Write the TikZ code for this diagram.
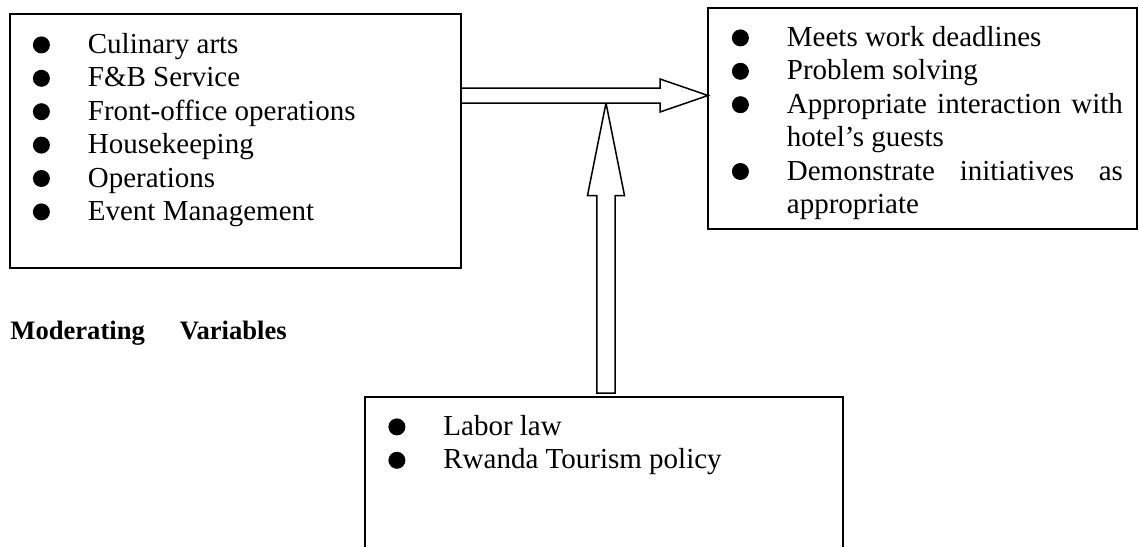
\documentclass[tikz,border=0pt]{standalone}
\usepackage{fontspec}
\setmainfont{Liberation Serif}
\usetikzlibrary{calc}

% round bullet and one list entry with hanging indent
\newcommand{\blob}{\tikz\fill (0,0) circle (4.25pt);}
\newlength{\itemgap}
\setlength{\itemgap}{27.5pt}
\newcommand{\lstitem}[1]{\par\noindent\hangindent=\itemgap\hangafter=1\strut\makebox[\itemgap][l]{\blob}#1\strut\par}

\begin{document}
\begin{tikzpicture}[
  x=0.5pt, y=-0.5pt,
  box/.style={rectangle, draw=black, line width=0.9pt, anchor=north west,
              inner sep=0pt, outer sep=0pt},
  lst/.style={anchor=north west, inner sep=0pt, text width=#1, align=justify,
              font=\fontsize{14.5}{16.7}\selectfont},
  blk/.style={draw=black, line width=0.75pt, fill=white, line join=miter},
  lbl/.style={anchor=base west, inner sep=0pt, font=\fontsize{13.3}{16}\selectfont\bfseries}
]
\useasboundingbox (0,0) rectangle (1139,546);
\clip (0,0) rectangle (1139,546);

% Input box
\node[box, minimum width=225.5pt, minimum height=127pt] (inputs) at (10,14) {};
\node[lst=200pt] (inputlist) at (32.5,19.6) {%
  \lstitem{Culinary arts}
  \lstitem{F\&B Service}
  \lstitem{Front-office operations}
  \lstitem{Housekeeping}
  \lstitem{Operations}
  \lstitem{Event Management}};

% Outcome box
\node[box, minimum width=214.5pt, minimum height=110.5pt] (outcomes) at (708,8) {};
\node[lst=195.5pt] (outcomelist) at (731.5,12.6) {%
  \lstitem{Meets work deadlines}
  \lstitem{Problem solving}
  \lstitem{Appropriate interaction with\linebreak hotel's guests}
  \lstitem{Demonstrate initiatives as\linebreak appropriate}};

% Moderating box (open at the bottom of the page)
\node[box, minimum width=239pt, minimum height=101.5pt] (moderators) at (365,397) {};
\node[lst=200pt] (moderatorlist) at (388,401.6) {%
  \lstitem{Labor law}
  \lstitem{Rwanda Tourism policy}};

\node[lbl] (modlabel) at (10,339) {Moderating\hspace{17.5pt}Variables};

% Arrow ends
\coordinate (hstart) at (inputs.east |- 0,95.5);
\coordinate (hend) at (outcomes.west |- hstart);
\coordinate (vstart) at ([xshift=120.5pt, yshift=2pt]moderators.north west);
\coordinate (vmeet) at (vstart |- hstart);
\coordinate (vtip) at ([yshift=-3.75pt]vmeet);

% Block arrows
\draw[blk] ([xshift=-4.6pt]vstart) -- ([xshift=-4.6pt, yshift=-46.25pt]vtip)
  -- ([xshift=-9.25pt, yshift=-46.25pt]vtip) -- (vtip)
  -- ([xshift=9.25pt, yshift=-46.25pt]vtip) -- ([xshift=4.6pt, yshift=-46.25pt]vtip)
  -- ([xshift=4.6pt]vstart) -- cycle;
\draw[blk] ([yshift=3.75pt]hstart) -- ([xshift=-24pt, yshift=3.75pt]hend)
  -- ([xshift=-24pt, yshift=8.25pt]hend) -- (hend)
  -- ([xshift=-24pt, yshift=-8.25pt]hend) -- ([xshift=-24pt, yshift=-3.75pt]hend)
  -- ([yshift=-3.75pt]hstart) -- cycle;
\end{tikzpicture}
\end{document}
